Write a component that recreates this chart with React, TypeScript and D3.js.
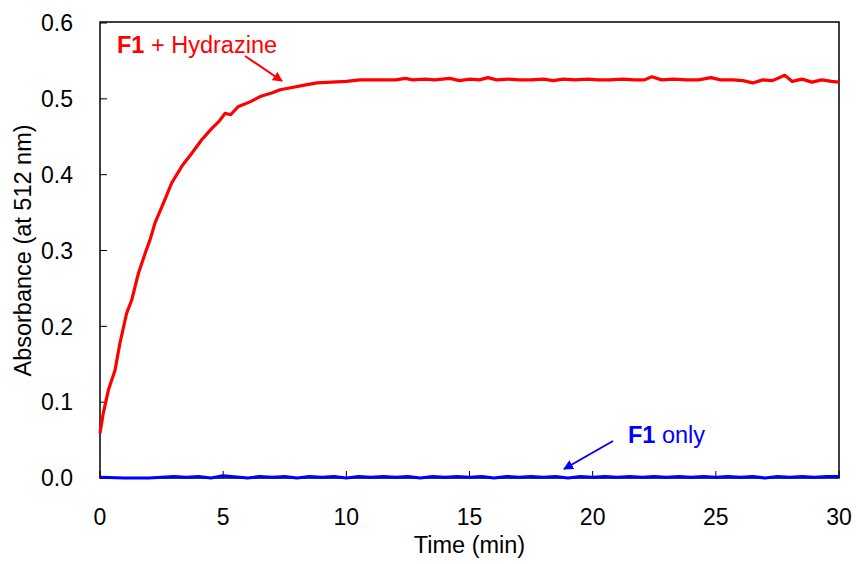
import React from "react";
import * as d3 from "d3";

const xTicks = [0, 5, 10, 15, 20, 25, 30];
const yTicks = [0, 0.1, 0.2, 0.3, 0.4, 0.5, 0.6];

const redTime = [0, 0.13, 0.34, 0.61, 0.81, 1.08, 1.29, 1.56, 1.83, 2.03, 2.23, 2.57, 2.91, 3.32, 3.72, 4.13, 4.54, 4.85, 5.08, 5.3, 5.62, 6.09, 6.5, 7.0, 7.31, 7.8, 8.3, 8.8, 9.4, 10.0, 10.56, 11.0, 11.5, 12.0, 12.4, 12.7, 13.2, 13.6, 14.2, 14.6, 15.0, 15.4, 15.75, 16.1, 16.6, 17.0, 17.5, 18.0, 18.4, 18.8, 19.3, 19.8, 20.2, 20.7, 21.2, 21.7, 22.1, 22.4, 22.8, 23.3, 23.8, 24.3, 24.8, 25.2, 25.7, 26.1, 26.5, 26.9, 27.3, 27.8, 28.1, 28.5, 28.9, 29.3, 29.7, 30.0];
const redAbs = [0.059, 0.085, 0.116, 0.142, 0.178, 0.217, 0.235, 0.27, 0.296, 0.314, 0.336, 0.362, 0.389, 0.411, 0.428, 0.446, 0.461, 0.471, 0.481, 0.479, 0.49, 0.496, 0.503, 0.508, 0.512, 0.515, 0.518, 0.521, 0.522, 0.523, 0.525, 0.525, 0.525, 0.525, 0.527, 0.525, 0.526, 0.525, 0.527, 0.524, 0.526, 0.525, 0.528, 0.525, 0.526, 0.525, 0.525, 0.526, 0.524, 0.526, 0.525, 0.526, 0.525, 0.525, 0.526, 0.525, 0.525, 0.529, 0.525, 0.526, 0.525, 0.525, 0.528, 0.525, 0.525, 0.524, 0.521, 0.525, 0.524, 0.531, 0.523, 0.526, 0.522, 0.525, 0.523, 0.522];

const blueTime = [0, 1, 2, 3, 3.5, 4, 4.5, 5, 6, 6.5, 7, 7.5, 8, 8.5, 9, 9.5, 10, 10.5, 11, 11.5, 12, 12.5, 13, 13.5, 14, 14.5, 15, 15.5, 16, 16.5, 17, 17.5, 18, 18.5, 19, 19.5, 20, 20.5, 21, 21.5, 22, 22.5, 23, 23.5, 24, 24.5, 25, 25.5, 26, 26.5, 27, 27.5, 28, 28.5, 29, 29.5, 30];
const blueAbs = [0.001, 0.0, 0.0, 0.002, 0.001, 0.002, 0.0, 0.003, 0.0, 0.002, 0.001, 0.002, 0.0, 0.002, 0.001, 0.002, 0.0, 0.002, 0.001, 0.002, 0.001, 0.002, 0.0, 0.002, 0.001, 0.002, 0.001, 0.002, 0.0, 0.002, 0.001, 0.002, 0.001, 0.002, 0.0, 0.002, 0.001, 0.002, 0.001, 0.002, 0.001, 0.002, 0.001, 0.002, 0.001, 0.002, 0.001, 0.002, 0.001, 0.002, 0.0, 0.002, 0.001, 0.002, 0.001, 0.002, 0.002];

const W = 856;
const H = 564;
const L = 100, R = 839, T = 23, B = 478;
const font = "Arial, 'Liberation Sans', sans-serif";

export default function App() {
  const x = d3.scaleLinear().domain([0, 30]).range([L, R]);
  const y = d3.scaleLinear().domain([0, 0.6]).range([B, T]);
  const line = d3.line<[number, number]>().x(d => x(d[0])).y(d => y(d[1]));
  const red = line(redTime.map((t, i) => [t, redAbs[i]] as [number, number])) || "";
  const blue = line(blueTime.map((t, i) => [t, blueAbs[i]] as [number, number])) || "";
  return (
    <svg width={W} height={H} style={{ position: "absolute", left: 0, top: 0, background: "#fff" }} fontFamily={font}>
      <defs>
        <marker id="ar" viewBox="0 0 10 10" refX="9" refY="5" markerWidth="5" markerHeight="5" orient="auto">
          <path d="M0,0 L10,5 L0,10 z" fill="#f00" />
        </marker>
        <marker id="ab" viewBox="0 0 10 10" refX="9" refY="5" markerWidth="5" markerHeight="5" orient="auto">
          <path d="M0,0 L10,5 L0,10 z" fill="#00f" />
        </marker>
      </defs>
      <rect x={0} y={0} width={W} height={H} fill="#fff" />
      <rect x={L} y={T - 1} width={R - L} height={B - T + 1} fill="none" stroke="#000" strokeWidth={1.5} />
      {yTicks.map(v => (
        <g key={v}>
          <line x1={L} x2={L + 7} y1={y(v)} y2={y(v)} stroke="#000" strokeWidth={1} />
          <text x={73} y={y(v)} dy="0.36em" textAnchor="end" fontSize={23}>{v.toFixed(1)}</text>
        </g>
      ))}
      {xTicks.map(v => (
        <g key={v}>
          <line x1={x(v)} x2={x(v)} y1={B} y2={B - 7} stroke="#000" strokeWidth={1} />
          <text x={x(v)} y={525} textAnchor="middle" fontSize={23}>{v}</text>
        </g>
      ))}
      <text x={(L + R) / 2} y={553} textAnchor="middle" fontSize={23.5}>Time (min)</text>
      <text transform={`translate(31,${(T + B) / 2}) rotate(-90)`} textAnchor="middle" fontSize={23.5}>Absorbance (at 512 nm)</text>
      <path d={blue} fill="none" stroke="#00f" strokeWidth={3.2} strokeLinejoin="round" />
      <path d={red} fill="none" stroke="#f00" strokeWidth={3.2} strokeLinejoin="round" />
      <text x={117} y={53} fontSize={23.5} fill="#f00"><tspan fontWeight="bold">F1</tspan> + Hydrazine</text>
      <line x1={245} y1={56} x2={282} y2={81} stroke="#f00" strokeWidth={2} markerEnd="url(#ar)" />
      <text x={628} y={443} fontSize={23.5} fill="#00f"><tspan fontWeight="bold">F1</tspan> only</text>
      <line x1={613} y1={441} x2={564} y2={469} stroke="#00f" strokeWidth={2} markerEnd="url(#ab)" />
    </svg>
  );
}
